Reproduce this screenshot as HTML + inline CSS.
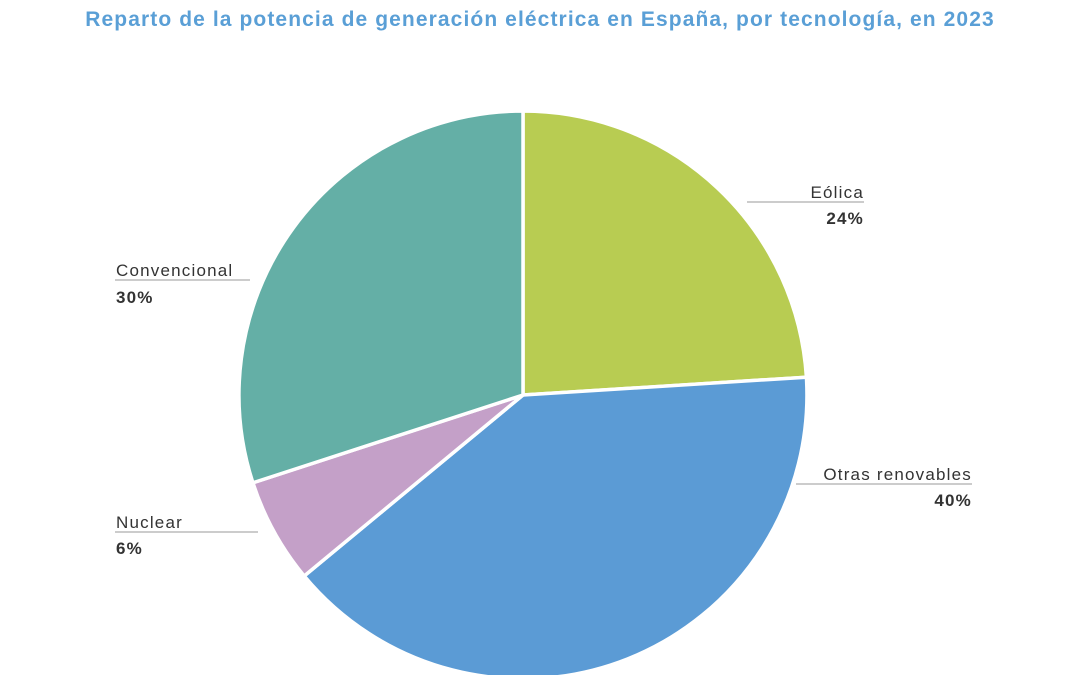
<!DOCTYPE html>
<html><head><meta charset="utf-8"><style>
html,body{margin:0;padding:0;background:#fff;width:1080px;height:675px;overflow:hidden}
</style></head><body>
<svg width="1080" height="675" viewBox="0 0 1080 675" xmlns="http://www.w3.org/2000/svg" font-family="Liberation Sans, sans-serif">
<text x="540" y="26" text-anchor="middle" font-size="21" fill="#5a9fd6" font-weight="bold" letter-spacing="1.1">Reparto de la potencia de generación eléctrica en España, por tecnología, en 2023</text>
<g stroke="#fff" stroke-width="3.5" stroke-linejoin="round">
<path d="M523,395 L523,111 A284,284 0 0 1 806.4,377.2 Z" fill="#b8cc52"/>
<path d="M523,395 L806.4,377.2 A284,284 0 0 1 304.2,576 Z" fill="#5b9bd5"/>
<path d="M523,395 L304.2,576 A284,284 0 0 1 252.9,482.8 Z" fill="#c4a0c8"/>
<path d="M523,395 L252.9,482.8 A284,284 0 0 1 523,111 Z" fill="#64afa6"/>
</g>
<g stroke="#999" stroke-width="1">
<line x1="747" y1="202" x2="864" y2="202"/>
<line x1="115" y1="280" x2="250" y2="280"/>
<line x1="796" y1="484" x2="972" y2="484"/>
<line x1="115" y1="532" x2="258" y2="532"/>
</g>
<g font-size="17" fill="#333" letter-spacing="1.2">
<text x="864" y="198" text-anchor="end">Eólica</text>
<text x="864" y="224" text-anchor="end" font-weight="bold">24%</text>
<text x="116" y="276">Convencional</text>
<text x="116" y="303" font-weight="bold">30%</text>
<text x="972" y="480" text-anchor="end">Otras renovables</text>
<text x="972" y="506" text-anchor="end" font-weight="bold">40%</text>
<text x="116" y="528">Nuclear</text>
<text x="116" y="554" font-weight="bold">6%</text>
</g>
</svg>
</body></html>
